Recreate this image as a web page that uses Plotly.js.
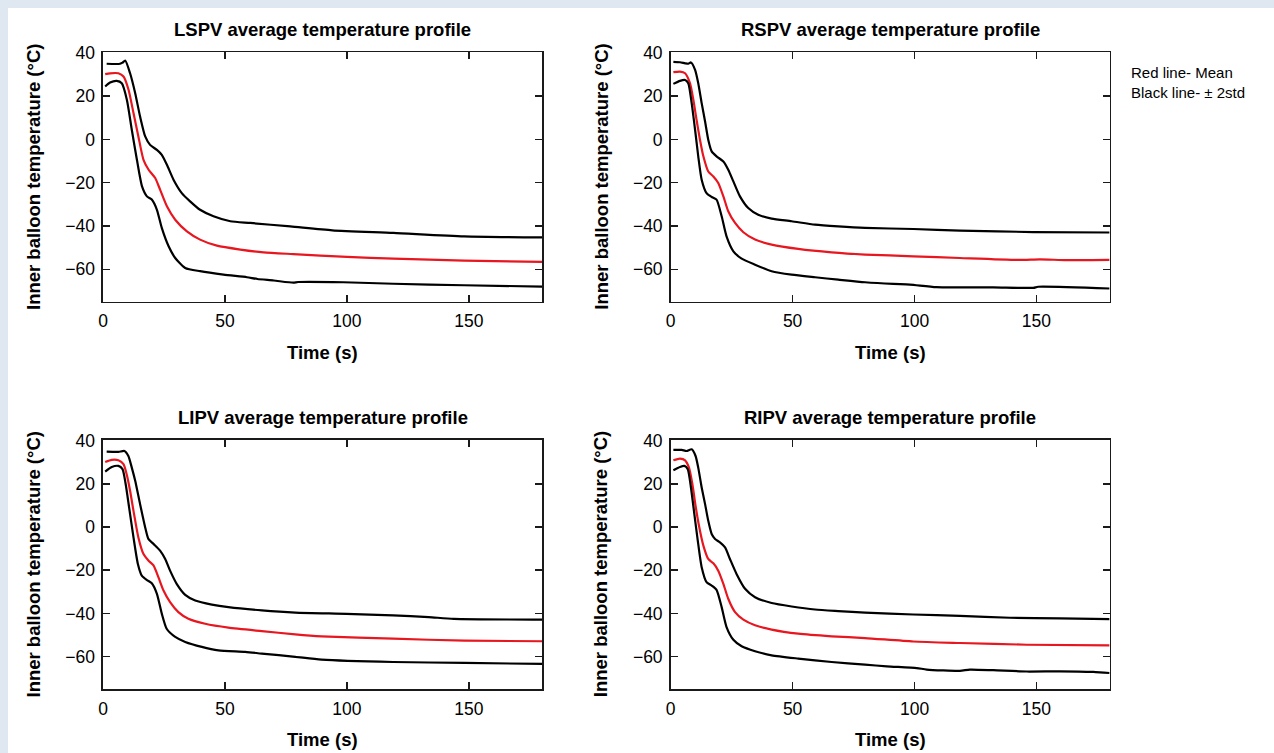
<!DOCTYPE html>
<html>
<head>
<meta charset="utf-8">
<script src="https://cdn.plot.ly/plotly-3.0.1.min.js"></script>
<style>
  html, body { margin: 0; padding: 0; background: #dfe8f1; width: 1274px; height: 753px; overflow: hidden; }
  #chart { position: absolute; left: 8px; top: 8px; width: 1266px; height: 745px; background: #fff; }
</style>
</head>
<body>
<div id="chart"></div>
<script>
// ---------------- DATA ----------------
const panelNames = ["LSPV", "RSPV", "LIPV", "RIPV"];
const xTicks = [0, 50, 100, 150];
const yTicks = [-60, -40, -20, 0, 20, 40];

// LSPV
const lspvUpperT = [1.5, 5, 7, 8, 9.1, 11.1, 13.2, 15.2, 17.3, 19.3, 22.1, 24.1, 26.2, 28.9, 32.3, 35.7, 39.8, 45.3, 52.2, 60.4, 76.8, 94, 119, 148, 180];
const lspvUpperV = [35, 34.9, 35, 35.5, 36.5, 30.6, 21.4, 10.6, 1.4, -2.5, -4.8, -7.1, -11.7, -18.6, -24.8, -28.6, -32.5, -35.5, -37.8, -38.6, -40.2, -42, -43.2, -44.8, -45.3];
const lspvMeanT = [0.9, 2.9, 6.3, 8.4, 10.5, 12.5, 14.5, 16.6, 18.7, 21.4, 23.4, 26.2, 29.6, 34.4, 39.8, 46.7, 56.3, 65.8, 78, 100, 119, 148, 180];
const lspvMeanV = [30.2, 30.6, 30.6, 29.1, 22.9, 12.2, 1.4, -9.4, -14, -17.8, -23.2, -30.9, -37.1, -42.5, -46.3, -49.1, -50.9, -52.2, -53, -54.3, -55.1, -56, -56.6];
const lspvLowerT = [0.9, 2.9, 5.6, 7.7, 9.8, 11.8, 13.9, 16, 18, 20, 22.1, 24.1, 26.9, 29.6, 33.7, 39.8, 49.4, 59, 63.3, 70, 78, 80, 98.5, 119, 148, 180];
const lspvLowerV = [24.5, 26.3, 27.1, 26, 18.3, 4.5, -9.4, -21.7, -26.3, -27.8, -32.5, -40.9, -49.4, -54.8, -59.4, -60.9, -62.5, -63.7, -64.5, -65.2, -66.2, -65.9, -66, -66.7, -67.4, -68];

// RSPV
const rspvUpperT = [1.1, 3.8, 5.9, 7.2, 8.3, 10, 11.3, 12.7, 14.1, 15.4, 16.8, 18.8, 21.6, 23.6, 25.7, 28.4, 31.8, 35.9, 41.4, 49.6, 59.2, 68.7, 79.7, 99.5, 118.6, 148.7, 180];
const rspvUpperV = [35.9, 35.7, 35.2, 35, 35.6, 32.2, 26, 16.8, 8.3, -0.1, -5.5, -7.8, -10.2, -14, -19.4, -26.3, -31.7, -34.8, -36.6, -37.8, -39.4, -40.2, -40.9, -41.4, -42.1, -42.8, -43];
const rspvMeanT = [1.1, 3.8, 5.9, 7.9, 9.3, 10.6, 12, 13.4, 15.4, 17.5, 19.5, 21.6, 23.6, 26.4, 29.8, 34.6, 41.4, 52.3, 66, 79.7, 99.5, 118.6, 143.2, 151.4, 162.4, 180];
const rspvMeanV = [31.1, 31.4, 30.6, 26, 18.3, 9.1, -0.1, -7.8, -14.8, -17.1, -20.1, -26.3, -33.2, -38.6, -42.9, -46.3, -48.6, -50.6, -52.2, -53.2, -54, -54.8, -55.7, -55.4, -55.8, -55.7];
const rspvLowerT = [1.1, 3.8, 5.9, 7.2, 8.6, 10, 11.3, 12.7, 14.7, 16.8, 18.8, 20.9, 22.9, 25.7, 29.1, 34.6, 41.4, 49.6, 59.2, 68.7, 79.7, 91.3, 98.1, 109, 132.3, 148.7, 150.7, 180];
const rspvLowerV = [25.7, 27.1, 27.5, 26, 16.8, 4.5, -7.8, -18.6, -24.8, -26.6, -27.8, -35.5, -44.8, -51.7, -55.1, -57.9, -60.9, -62.5, -63.7, -64.8, -66, -66.8, -67.1, -68.3, -68.4, -68.6, -68.1, -68.9];

// LIPV
const lipvUpperT = [1.5, 6.3, 8.8, 10.4, 11.8, 13.2, 15.2, 17.3, 18.6, 20.7, 23.4, 25.5, 27.5, 30.2, 33.7, 37.8, 44.6, 51.4, 65.1, 78.8, 99.8, 118.9, 133.5, 143.8, 180];
const lipvUpperV = [34.9, 34.8, 35.2, 32.9, 27.5, 21.4, 10.6, -0.2, -5.5, -7.8, -10.9, -14.8, -20.2, -26.3, -31.4, -34, -35.9, -37.1, -38.6, -39.6, -40.2, -40.9, -41.7, -42.5, -42.9];
const lipvMeanT = [0.9, 3.6, 6.3, 8.4, 9.7, 11.1, 12.5, 14.5, 16.6, 18.6, 20.7, 22.7, 24.8, 27.5, 30.9, 35, 41.9, 51.4, 65.1, 78.8, 89.6, 118.9, 148.2, 180];
const lipvMeanV = [30.1, 31.1, 30.9, 29.1, 24.4, 16.8, 7.5, -4.8, -12.5, -15.5, -17.8, -23.2, -29.4, -34.8, -39.4, -42.5, -44.8, -46.6, -48.2, -49.7, -50.6, -51.7, -52.6, -52.9];
const lipvLowerT = [0.9, 3.6, 6.3, 8, 9.3, 10.7, 12.5, 14.3, 15.9, 17.9, 20, 22.1, 24.1, 26.1, 29.6, 33.7, 40.5, 47.3, 58.3, 65.1, 78.8, 89.6, 118.9, 148.2, 180];
const lipvLowerV = [25.7, 27.8, 28.3, 26.8, 19.8, 9.1, -4.8, -17.1, -22.5, -24.5, -26, -30.9, -40.1, -47.1, -50.9, -53.2, -55.5, -57.1, -57.8, -58.6, -60.1, -61.4, -62.5, -62.9, -63.4];

// RIPV
const ripvUpperT = [1.1, 4.5, 6.5, 8.6, 10.2, 11.3, 12.7, 14.1, 15.4, 16.8, 18.2, 20.2, 22.3, 24.3, 27, 30.5, 34.6, 41.4, 49.6, 59.2, 68.7, 79.7, 99.5, 118.6, 139.1, 159.6, 180];
const ripvUpperV = [35.7, 35.7, 35.2, 36, 32.9, 27.5, 18.3, 10.6, 2.9, -3.2, -5.5, -7.1, -9.4, -14.8, -21.7, -28.6, -32.5, -35.2, -36.8, -38.2, -38.9, -39.6, -40.5, -41.1, -42, -42.3, -42.6];
const ripvMeanT = [1.1, 3.8, 5.9, 7.5, 8.9, 10.2, 11.6, 13.4, 15.4, 17.5, 19.5, 21.6, 23.6, 26.4, 29.8, 34.6, 41.4, 52.3, 66, 79.7, 99.5, 118.6, 146, 180];
const ripvMeanV = [30.9, 31.7, 30.9, 27.5, 19.8, 9.8, 0.6, -8.6, -14.8, -16.8, -20.2, -26.3, -33.2, -39.4, -42.9, -45.5, -47.5, -49.4, -50.6, -51.4, -53, -53.7, -54.5, -54.8];
const ripvLowerT = [1.1, 3.8, 5.6, 7, 8.3, 9.7, 11.1, 12.7, 14.7, 16.8, 18.8, 20.9, 22.9, 25.7, 29.1, 34.6, 41.4, 52.3, 66, 79.7, 88.6, 100.9, 105, 118.6, 122.7, 132.3, 146, 159.6, 173.3, 180];
const ripvLowerV = [26.3, 27.8, 28.3, 26.8, 18.3, 6, -6.3, -18.6, -25.5, -27.1, -29.1, -37.1, -46.3, -52.2, -55.2, -57.5, -59.4, -60.9, -62.5, -63.7, -64.5, -65.3, -66, -66.6, -66, -66.3, -66.9, -66.8, -67.1, -67.6];

const legendLines = ["Red line- Mean", "Black line- \u00B1 2std"];

// ---------------- LAYOUT ----------------
const W = 1266, H = 745, OFF = 8;
const px = X => (X - OFF) / W;
const py = Y => 1 - (Y - OFF) / H;

const series = [
  [lspvUpperT, lspvUpperV, lspvMeanT, lspvMeanV, lspvLowerT, lspvLowerV],
  [rspvUpperT, rspvUpperV, rspvMeanT, rspvMeanV, rspvLowerT, rspvLowerV],
  [lipvUpperT, lipvUpperV, lipvMeanT, lipvMeanV, lipvLowerT, lipvLowerV],
  [ripvUpperT, ripvUpperV, ripvMeanT, ripvMeanV, ripvLowerT, ripvLowerV]
];

const boxes = [
  {x0: 103, x1: 542.1, y0: 52.3, y1: 301.7},
  {x0: 670.7, x1: 1109.6, y0: 52.3, y1: 301.7},
  {x0: 103, x1: 542.1, y0: 440, y1: 689},
  {x0: 670.7, x1: 1109.6, y0: 440, y1: 689}
];

const FONT = "Liberation Sans, Arial, Helvetica, sans-serif";
const RED = "#e8161f";
const AXC = "#1a1a1a";

const traces = [];
const layout = {
  width: W, height: H,
  margin: {l: 0, r: 0, t: 0, b: 0, pad: 0},
  paper_bgcolor: "#ffffff",
  plot_bgcolor: "#ffffff",
  showlegend: false,
  font: {family: FONT, color: "#000", size: 17.5},
  annotations: []
};

boxes.forEach((b, i) => {
  const n = i === 0 ? "" : String(i + 1);
  const xa = "x" + n, ya = "y" + n;
  const s = series[i];
  const cols = ["#000000", RED, "#000000"];
  for (let k = 0; k < 3; k++) {
    traces.push({
      x: s[2 * k], y: s[2 * k + 1], xaxis: xa, yaxis: ya,
      type: "scatter", mode: "lines",
      line: {color: cols[k], width: 2.2, shape: "spline", smoothing: 0.6},
      hoverinfo: "skip"
    });
  }
  const common = {
    showline: true, linecolor: AXC, linewidth: 1.6, mirror: "ticks",
    ticks: "inside", ticklen: 7, tickwidth: 1.5, tickcolor: AXC,
    showgrid: false, zeroline: false, fixedrange: true,
    tickfont: {family: FONT, size: 17.5, color: "#000"}
  };
  layout["xaxis" + n] = Object.assign({}, common, {
    domain: [px(b.x0), px(b.x1)], anchor: ya, range: [0, 180],
    tickmode: "array", tickvals: xTicks, ticktext: xTicks.map(String),
    ticklabelstandoff: 3
  });
  layout["yaxis" + n] = Object.assign({}, common, {
    domain: [py(b.y1), py(b.y0)], anchor: xa, range: [-75, 40.3],
    tickmode: "array", tickvals: yTicks, ticktext: yTicks.map(v => v < 0 ? "\u2212" + Math.abs(v) : String(v)),
    ticklabelstandoff: 3
  });
  const cx = (b.x0 + b.x1) / 2;
  layout.annotations.push({
    text: "<b>" + panelNames[i] + " average temperature profile</b>",
    xref: "paper", yref: "paper", x: px(cx), y: py(b.y0 - 22.5),
    xanchor: "center", yanchor: "middle", showarrow: false,
    font: {family: FONT, size: 18.5, color: "#000"}
  });
  layout.annotations.push({
    text: "<b>Time (s)</b>",
    xref: "paper", yref: "paper", x: px(cx), y: py(b.y1 + 50.5),
    xanchor: "center", yanchor: "middle", showarrow: false,
    font: {family: FONT, size: 18.5, color: "#000"}
  });
  layout.annotations.push({
    text: "<b>Inner balloon temperature (\u00B0C)</b>",
    xref: "paper", yref: "paper", x: px(b.x0 - 70), y: py((b.y0 + b.y1) / 2),
    xanchor: "center", yanchor: "middle", showarrow: false, textangle: -90,
    font: {family: FONT, size: 18.5, color: "#000"}
  });
});

legendLines.forEach((t, j) => {
  layout.annotations.push({
    text: t, xref: "paper", yref: "paper",
    x: px(1129), y: py(72.7 + 19.5 * j), xanchor: "left", yanchor: "middle",
    showarrow: false, font: {family: FONT, size: 15, color: "#000"}
  });
});

Plotly.newPlot("chart", traces, layout, {displayModeBar: false, staticPlot: true});
</script>
</body>
</html>
